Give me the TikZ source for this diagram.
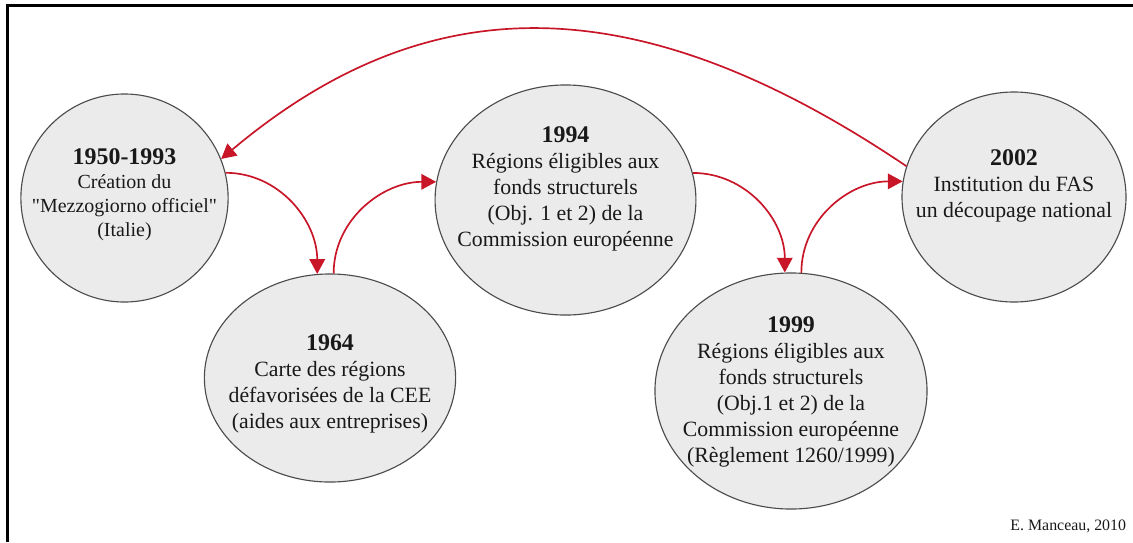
\documentclass[tikz,border=0pt]{standalone}
\usepackage{fontspec}
\setmainfont{Liberation Serif}
\usepackage{xcolor}
\usepackage{tikz}
\usetikzlibrary{arrows.meta,shapes.geometric}

\definecolor{linkred}{RGB}{200,22,40}
\definecolor{discgray}{RGB}{235,235,235}
\newcommand{\yr}[1]{{\fontsize{17}{18.5}\selectfont\bfseries #1}}

\begin{document}
\begin{tikzpicture}[
  x=0.025cm,y=0.025cm,>={Triangle[length=10.5pt,width=11pt]},
  flow/.style={->,draw=linkred,line width=1.2pt},
  period/.style={draw=black!70,line width=0.8pt,ellipse,fill=discgray,
    inner sep=0pt},
  caption/.style={align=center,text=black!90,
    font=\fontsize{15.5}{18.6}\selectfont}
]
  \useasboundingbox (0,0) rectangle (1133,-542);
  \draw[line width=1.6pt] (1133,-5.5) -- (7.5,-5.5) -- (7.5,-542);
  % the five periods
  \node[period,minimum width=5.18cm,minimum height=5.2cm] (mezzo) at (124.5,-198) {};
  \node[period,minimum width=6.28cm,minimum height=5.2cm] (cee) at (330,-378) {};
  \node[period,minimum width=6.52cm,minimum height=5.75cm] (fonds94) at (565.5,-200) {};
  \node[period,minimum width=6.8cm,minimum height=5.9cm] (fonds99) at (791,-391) {};
  \node[period,minimum width=5.6cm,minimum height=5.25cm] (fas) at (1014,-197) {};
  % their texts
  \node[caption,font=\fontsize{14.2}{17}\selectfont] (mezzo-txt) at (124.5,-195)
    {\yr{1950-1993}\\Création du\\\textquotedbl Mezzogiorno officiel\textquotedbl\\(Italie)};
  \node[caption] (cee-txt) at (330,-384)
    {\yr{1964}\\Carte des régions\\défavorisées de la CEE\\(aides aux entreprises)};
  \node[caption] (fonds94-txt) at (565.5,-189)
    {\yr{1994}\\Régions éligibles aux\\fonds structurels\\(Obj. 1 et 2) de la\\Commission européenne};
  \node[caption] (fonds99-txt) at (791,-392)
    {\yr{1999}\\Régions éligibles aux\\fonds structurels\\(Obj.1 et 2) de la\\Commission européenne\\(Règlement 1260/1999)};
  \node[caption] (fas-txt) at (1014,-186)
    {\yr{2002}\\Institution du FAS\\un découpage national};
  \node[anchor=base east,text=black!90,font=\fontsize{11.3}{13}\selectfont] (credit)
    at (1131,-530) {E. Manceau, 2010};
  % links
  \draw[flow] (mezzo.14) to[out=0,in=90] (cee.97);
  \draw[flow] (cee.88) to[out=90,in=180] (fonds94.172);
  \draw[flow] (fonds94.12) to[out=0,in=90] (fonds99.93);
  \draw[flow] (fonds99.85) to[out=90,in=180] (fas.172);
  \draw[flow] (fas.164) to[out=146,in=40,out looseness=1.22,in looseness=1.0] (mezzo.22);
\end{tikzpicture}
\end{document}
